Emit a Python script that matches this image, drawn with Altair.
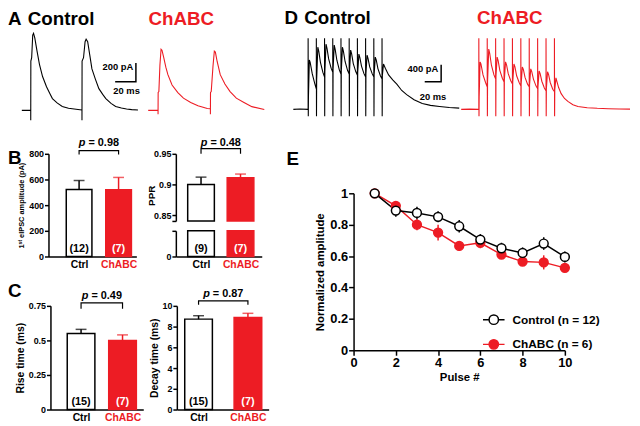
import altair as alt
import pandas as pd

RED = "#ed1c24"
FONT = "Liberation Sans"
W, H = 632, 418

# ---------------- data ----------------
groups = ["Ctrl", "ChABC"]
group_pos = [1, 2]

amp_mean = [522, 520]
amp_sem = [70, 96]
amp_n = ["(12)", "(7)"]

ppr_mean = [0.900, 0.911]
ppr_sem = [0.012, 0.006]
ppr_n = ["(9)", "(7)"]

rise_mean = [0.55, 0.50]
rise_sem = [0.03, 0.04]
rise_n = ["(15)", "(7)"]

decay_mean = [8.72, 8.88]
decay_sem = [0.33, 0.40]
decay_n = ["(15)", "(7)"]

p_values = ["0.98", "0.48", "0.49", "0.87"]

pulse = [1, 2, 3, 4, 5, 6, 7, 8, 9, 10]
ctrl_norm = [1.00, 0.89, 0.875, 0.85, 0.79, 0.705, 0.65, 0.62, 0.68, 0.595]
ctrl_sem = [0.0, 0.04, 0.04, 0.035, 0.04, 0.035, 0.035, 0.035, 0.04, 0.035]
chabc_norm = [1.00, 0.92, 0.80, 0.75, 0.665, 0.685, 0.61, 0.565, 0.56, 0.525]
chabc_sem = [0.0, 0.02, 0.035, 0.05, 0.03, 0.035, 0.02, 0.02, 0.045, 0.02]
series_names = ["Control (n = 12)", "ChABC (n = 6)"]

# example traces (time ms, current pA)
a_ctrl = [(0, 0), (8.5, 0), (8.6, 0), (8.6, -105), (8.7, 525), (9.5, 560), (10.5, 800),
          (11.3, 820), (12.5, 770), (14.5, 640), (17, 490), (20, 360), (23.8, 252),
          (27, 180), (29.5, 126), (34, 80), (39, 42), (45, 22), (50.5, 15), (57.9, 5),
          (58, 5), (58, -105), (58.1, 525), (59.5, 560), (61, 730), (62, 756), (63.5, 730),
          (65.5, 590), (67.6, 441), (71, 330), (74.3, 231), (78, 170), (81, 126),
          (86, 75), (90.5, 42), (96, 25), (101, 15), (106, 8), (112, 5)]
a_chabc = [(0, 0), (9.4, 0), (9.5, 0), (9.5, -42), (9.6, 190), (10.3, 200), (11.3, 480),
           (12.4, 650), (13.3, 640), (15, 560), (17, 460), (19, 380), (23, 270),
           (28.6, 190), (34, 130), (41, 85), (48, 50), (57, 20), (59.9, 18), (60, 18),
           (60, -42), (60.1, 190), (60.8, 200), (62.5, 470), (63.8, 630), (64.8, 620),
           (66.5, 520), (69.5, 380), (74, 280), (79, 200), (85, 130), (92.4, 85),
           (100, 40), (112, 10)]
d_ctrl = [(0, 0), (8, 8), (17.9, 0),
          (18, 0), (18, 1690), (18.2, -165), (18.4, 300), (19.5, 1175), (20.5, 1120), (23, 850), (26, 620), (27.9, 490),
          (28, 490), (28, 1690), (28.2, -165), (28.4, 700), (29.8, 1480), (31, 1380), (33, 1120), (36, 880), (37.9, 775),
          (38, 775), (38, 1690), (38.2, -165), (38.4, 900), (39.8, 1550), (41, 1450), (43, 1200), (46, 980), (47.9, 890),
          (48, 890), (48, 1690), (48.2, -165), (48.4, 950), (49.8, 1530), (51, 1420), (53, 1170), (56, 940), (57.9, 845),
          (58, 845), (58, 1690), (58.2, -165), (58.4, 900), (59.8, 1480), (61, 1380), (63, 1140), (66, 930), (67.9, 845),
          (68, 845), (68, 1690), (68.2, -165), (68.4, 900), (69.8, 1410), (71, 1320), (73, 1090), (76, 900), (77.9, 820),
          (78, 820), (78, 1690), (78.2, -165), (78.4, 880), (79.8, 1315), (81, 1230), (83, 1030), (86, 850), (87.9, 775),
          (88, 775), (88, 1690), (88.2, -165), (88.4, 840), (89.8, 1290), (91, 1210), (93, 1010), (96, 850), (97.9, 775),
          (98, 775), (98, 1690), (98.2, -165), (98.4, 830), (99.8, 1245), (101, 1170), (103, 970), (106, 800), (107.9, 730),
          (108, 730), (108, 1690), (108.2, -165), (108.4, 800), (109.8, 1080), (112, 980), (116, 820), (121, 700),
          (126, 600), (132, 450), (138, 350), (147, 230), (157, 140), (167, 95), (178, 70), (190, 45), (202, 30)]
d_chabc = [(0, 0), (10, 5), (20.9, 0),
           (21, 0), (21, 1690), (21.2, -165), (21.4, 300), (22.5, 1130), (23.5, 1080), (26, 820), (29, 640), (30.9, 540),
           (31, 540), (31, 1690), (31.2, -165), (31.4, 650), (32.8, 1435), (34, 1330), (36, 1050), (39, 820), (40.9, 730),
           (41, 730), (41, 1690), (41.2, -165), (41.4, 780), (42.8, 1245), (44, 1160), (46, 930), (49, 740), (50.9, 660),
           (51, 660), (51, 1690), (51.2, -165), (51.4, 700), (52.8, 1130), (54, 1060), (56, 850), (59, 680), (60.9, 610),
           (61, 610), (61, 1690), (61.2, -165), (61.4, 650), (62.8, 1080), (64, 1010), (66, 800), (69, 640), (70.9, 565),
           (71, 565), (71, 1690), (71.2, -165), (71.4, 600), (72.8, 1010), (74, 950), (76, 760), (79, 600), (80.9, 540),
           (81, 540), (81, 1690), (81.2, -165), (81.4, 580), (82.8, 965), (84, 900), (86, 720), (89, 560), (90.9, 495),
           (91, 495), (91, 1690), (91.2, -165), (91.4, 530), (92.8, 915), (94, 850), (96, 670), (99, 510), (100.9, 445),
           (101, 445), (101, 1690), (101.2, -165), (101.4, 480), (102.8, 895), (104, 830), (106, 640), (109, 480), (110.9, 425),
           (111, 425), (111, 1690), (111.2, -165), (111.4, 460), (112.8, 750), (114, 660), (116, 520), (119, 375),
           (123, 260), (127, 190), (133, 110), (139, 70), (150, 40), (162, 25), (175, 15), (188, 10), (201, 5)]

# scale bars (ms, pA) and their labels
scalebar_a = [(90, 305), (110, 305), (110, 505)]
scalebar_a_text = [("200 pA", 107.5, 465), ("20 ms", 101, 205)]
scalebar_d = [(160, 660), (180, 660), (180, 1060)]
scalebar_d_text = [("400 pA", 176.5, 950), ("20 ms", 170, 300)]

IS_CTRL = "datum.grp == 'Ctrl'"
PLAIN = "'' + datum.value"


def sc(domain, rng, clamp=False):
    return alt.Scale(domain=domain, range=rng, nice=False, zero=False, clamp=clamp, padding=0)


def heading(rows, xs, ys, xaxis, yaxis, color="black"):
    df = pd.DataFrame(rows, columns=["txt", "x", "y"])
    return alt.Chart(df).mark_text(align="left", baseline="alphabetic", font=FONT,
                                   fontWeight="bold", fontSize=19, color=color).encode(
        x=alt.X("x:Q", scale=xs, axis=xaxis), y=alt.Y("y:Q", scale=ys, axis=yaxis),
        text="txt:N")


def trace_panel(pairs, color, xdom, xr, ydom, yr, heads, head_color="black",
                bar=None, bar_text=None):
    xs, ys = sc(xdom, xr), sc(ydom, yr)
    df = pd.DataFrame(pairs, columns=["t", "i"])
    df["k"] = range(len(df))
    X = alt.X("t:Q", scale=xs, axis=None)
    Y = alt.Y("i:Q", scale=ys, axis=None)
    layers = [alt.Chart(df).mark_line(color=color, strokeWidth=1.1).encode(x=X, y=Y, order="k:Q"),
              heading(heads, xs, ys, None, None, head_color)]
    if bar is not None:
        bdf = pd.DataFrame(bar, columns=["t", "i"])
        bdf["k"] = range(len(bdf))
        layers.append(alt.Chart(bdf).mark_line(color="black", strokeWidth=1.5).encode(
            x=X, y=Y, order="k:Q"))
        tdf = pd.DataFrame(bar_text, columns=["txt", "t", "i"])
        for idx, al in [(0, "right"), (1, "center")]:
            layers.append(alt.Chart(tdf.iloc[[idx]]).mark_text(
                align=al, baseline="middle", font=FONT, fontWeight="bold", fontSize=9.5).encode(
                x=X, y=Y, text="txt:N"))
    return alt.layer(*layers)


def x_axis_bar(bottom):
    return alt.Axis(orient="bottom", offset=bottom - H, values=[1, 2], title=None, tickSize=0,
                    labelFontSize=10.5, labelPadding=3,
                    labelExpr=f"datum.value == 1 ? '{groups[0]}' : '{groups[1]}'",
                    labelColor={"condition": {"test": "datum.value == 2", "value": RED},
                                "value": "black"})


def y_axis_bar(left, values, title, title_size=10.5, label_expr=PLAIN, **extra):
    return alt.Axis(orient="left", offset=-left, values=values, title=title,
                    labelExpr=label_expr, labelFontSize=9, titleFontSize=title_size,
                    tickSize=4, labelPadding=1, titlePadding=3, **extra)


def bar_panel(mean, sem, n, xdom, xr, ydom, yr, bar_w, yaxis, xaxis,
              errors=True, counts=True, bracket=None, pval=None, clamp=False,
              y_break=None, heads=None):
    df = pd.DataFrame({"grp": groups, "pos": group_pos, "mean": mean,
                       "hi": [m + s for m, s in zip(mean, sem)], "n": n})
    xs, ys = sc(xdom, xr), sc(ydom, yr, clamp)
    X = alt.X("pos:Q", scale=xs, axis=xaxis)
    base = alt.Chart(df)
    enc = dict(x=X, y=alt.Y("mean:Q", scale=ys, axis=yaxis),
               fill=alt.condition(IS_CTRL, alt.value("white"), alt.value(RED)),
               stroke=alt.condition(IS_CTRL, alt.value("black"), alt.value(RED)))
    if y_break is not None:
        enc["y2"] = alt.Y2Datum(y_break)
    layers = [base.mark_bar(width=bar_w, strokeWidth=1.5).encode(**enc)]
    if errors:
        layers.append(base.mark_rule(strokeWidth=1.5).encode(
            x=X, y=alt.Y("mean:Q", scale=ys, axis=yaxis), y2="hi:Q",
            color=alt.condition(IS_CTRL, alt.value("black"), alt.value(RED))))
        layers.append(base.mark_tick(orient="horizontal", size=11, thickness=1.5).encode(
            x=X, y=alt.Y("hi:Q", scale=ys, axis=yaxis),
            color=alt.condition(IS_CTRL, alt.value("black"), alt.value(RED))))
    if counts:
        layers.append(base.mark_text(baseline="bottom", dy=-3, font=FONT, fontWeight="bold",
                                     fontSize=11).encode(
            x=X, y=alt.YDatum(ydom[0], scale=ys, axis=yaxis), text="n:N",
            color=alt.condition(IS_CTRL, alt.value("black"), alt.value("white"))))
    if bracket is not None:
        leg, top, ty = bracket
        bdf = pd.DataFrame({"pos": [1, 1, 2, 2], "y": [leg, top, top, leg], "k": [0, 1, 2, 3]})
        layers.append(alt.Chart(bdf).mark_line(color="black", strokeWidth=1.2).encode(
            x=X, y=alt.Y("y:Q", scale=ys, axis=yaxis), order="k:Q"))
        pdf = pd.DataFrame({"pos": [1.5], "y": [ty], "p": ["p"], "rest": ["= " + pval]})
        layers.append(alt.Chart(pdf).mark_text(align="right", baseline="middle", dx=-13.5,
                                               font=FONT, fontWeight="bold", fontStyle="italic",
                                               fontSize=11).encode(
            x=X, y=alt.Y("y:Q", scale=ys, axis=yaxis), text="p:N"))
        layers.append(alt.Chart(pdf).mark_text(align="left", baseline="middle", dx=-10.5,
                                               font=FONT, fontWeight="bold", fontSize=11).encode(
            x=X, y=alt.Y("y:Q", scale=ys, axis=yaxis), text="rest:N"))
    if heads is not None:
        layers.append(heading(heads, xs, ys, xaxis, yaxis))
    return alt.layer(*layers)


# ---------------- panels A and D (example traces) ----------------
A_ctrl = trace_panel(a_ctrl, "black", [0, 117.1], [14, 137], [-115, 882], [112, 17],
                     [("A", -13.3, 913), ("Control", 5.7, 913)],
                     bar=scalebar_a, bar_text=scalebar_a_text)
A_chabc = trace_panel(a_chabc, RED, [0, 114.3], [142, 262], [-115, 882], [112, 17],
                      [("ChABC", 0.3, 913)], head_color=RED)
D_ctrl = trace_panel(d_ctrl, "black", [0, 202], [289, 457], [-282, 1950], [112, 17],
                     [("D", -10.8, 2020), ("Control", 13.2, 2020)],
                     bar=scalebar_d, bar_text=scalebar_d_text)
D_chabc = trace_panel(d_chabc, RED, [0, 201], [459, 630], [-282, 1950], [112, 17],
                      [("ChABC", 18.8, 2020)], head_color=RED)

# ---------------- panel B ----------------
B_left = bar_panel(amp_mean, amp_sem, amp_n, [0.225, 2.45], [41, 130], [0, 800], [249, 145], 26,
                   y_axis_bar(41, [0, 200, 400, 600, 800], "1ˢᵗ eIPSC amplitude (pA)", title_size=7.5),
                   x_axis_bar(249), bracket=(795, 825, 882), pval=p_values[0],
                   heads=[("B", -0.80, 723)])
PPR_BREAK = 0.8406
B_right_top = bar_panel(ppr_mean, ppr_sem, ppr_n, [0.3625, 2.5375], [170, 257],
                        [PPR_BREAK, 0.95], [213, 145], 27,
                        y_axis_bar(170, [PPR_BREAK, 0.85, 0.9, 0.95], "PPR", title_size=10,
                                   label_expr="datum.value < 0.845 ? '' : '' + datum.value",
                                   titleX=-20, titleY=187),
                        None, counts=False, y_break=PPR_BREAK,
                        bracket=(0.950, 0.9585, 0.968), pval=p_values[1])
B_right_bot = bar_panel(ppr_mean, ppr_sem, ppr_n, [0.3625, 2.5375], [170, 257],
                        [0, 0.1], [249, 223], 27,
                        y_axis_bar(170, [0, 0.1], None,
                                   label_expr="datum.value > 0 ? '' : '0'"),
                        x_axis_bar(249), errors=False, clamp=True)

# ---------------- panel C ----------------
C_left = bar_panel(rise_mean, rise_sem, rise_n, [0.262, 2.5], [43, 137], [0, 0.75], [404, 299], 28,
                   y_axis_bar(43, [0, 0.25, 0.5, 0.75], "Rise time (ms)"),
                   x_axis_bar(404), bracket=(0.729, 0.771, 0.821), pval=p_values[2],
                   heads=[("C", -0.762, 0.814)])
C_right = bar_panel(decay_mean, decay_sem, decay_n, [0.56, 2.42], [171, 264], [0, 10], [404, 299], 28,
                    y_axis_bar(171, [0, 2, 4, 6, 8, 10], "Decay time (ms)"),
                    x_axis_bar(404), bracket=(10.1, 10.48, 11.1), pval=p_values[3])

# ---------------- panel E ----------------
rows = []
for name, vals, sems in [(series_names[1], chabc_norm, chabc_sem),
                         (series_names[0], ctrl_norm, ctrl_sem)]:
    for p, v, s in zip(pulse, vals, sems):
        rows.append({"series": name, "pulse": p, "val": v, "lo": v - s, "hi": v + s})
e_df = pd.DataFrame(rows)

LEG_PATH = "M-2.3,0L-1,0M1,0L2.3,0M1,0A1,1,0,1,1,-1,0A1,1,0,1,1,1,0Z"
leg = alt.Legend(title=None, orient="none", legendX=486, legendY=307, symbolType=LEG_PATH,
                 symbolSize=90, symbolStrokeWidth=1.5, labelFont=FONT, labelFontSize=12,
                 labelFontWeight="bold", labelColor="black", labelOffset=13, rowPadding=9,
                 padding=0)
xs_e = sc([0, 10], [350, 564])
ys_e = sc([0, 1], [344, 185])
e_xaxis = alt.Axis(orient="bottom", offset=344 - H, values=[0, 2, 4, 6, 8, 10],
                   labelExpr=PLAIN, title="Pulse #", labelFontSize=13, titleFontSize=11.5,
                   tickSize=5, labelPadding=1, titlePadding=3)
e_yaxis = alt.Axis(orient="left", offset=-350, values=[0, 0.2, 0.4, 0.6, 0.8, 1],
                   labelExpr=PLAIN, title="Normalized amplitude", labelFontSize=13,
                   titleFontSize=11.5, tickSize=5, labelPadding=1, titlePadding=4)
ex = alt.X("pulse:Q", scale=xs_e, axis=e_xaxis)
ey = alt.Y("val:Q", scale=ys_e, axis=e_yaxis)
stroke_enc = alt.Stroke("series:N", scale=alt.Scale(domain=series_names, range=["black", RED]),
                        legend=leg)
fill_enc = alt.Fill("series:N", scale=alt.Scale(domain=series_names, range=["white", RED]),
                    legend=leg)
e_base = alt.Chart(e_df)
E = alt.layer(
    e_base.mark_line(strokeWidth=1.5).encode(x=ex, y=ey, stroke=stroke_enc),
    e_base.mark_rule(strokeWidth=1.5).encode(x=ex, y=alt.Y("lo:Q", scale=ys_e, axis=e_yaxis),
                                             y2="hi:Q", stroke=stroke_enc),
    e_base.mark_point(shape="circle", filled=True, size=80, opacity=1, strokeWidth=1.5).encode(
        x=ex, y=ey, fill=fill_enc, stroke=stroke_enc),
    heading([("E", -3.18, 1.182)], xs_e, ys_e, e_xaxis, e_yaxis),
)

chart = alt.layer(
    A_ctrl, A_chabc, D_ctrl, D_chabc, B_left, B_right_top, B_right_bot, C_left, C_right, E
).resolve_scale(x="independent", y="independent").properties(
    width=W, height=H, padding=0, autosize=alt.AutoSizeParams(type="none")
).configure(font=FONT).configure_view(stroke=None).configure_axis(
    labelFont=FONT, titleFont=FONT, labelFontWeight="bold", titleFontWeight="bold",
    labelColor="black", titleColor="black", domainColor="black", tickColor="black",
    grid=False, domainWidth=1.5, tickWidth=1.5, labelFlush=False, labelOverlap=False,
    labelBound=False)

chart.save("out.html", embed_options={"renderer": "svg", "actions": False})
